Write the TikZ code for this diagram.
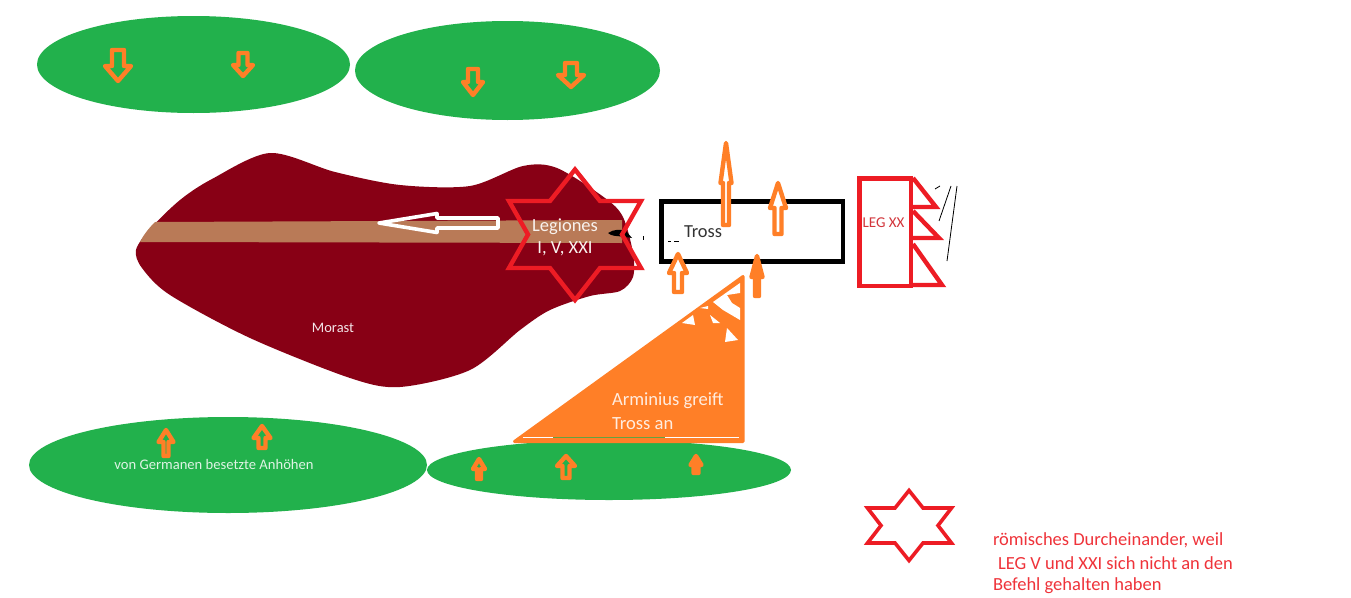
\documentclass[tikz,border=0pt]{standalone}
\usepackage{fontspec}
\setmainfont{Carlito}
\definecolor{gruen}{HTML}{22B14C}
\definecolor{orng}{HTML}{FF7F27}
\definecolor{maroon}{HTML}{880015}
\definecolor{braun}{HTML}{B97A57}
\definecolor{rot}{HTML}{ED1C24}
\newcommand{\fsz}[2]{\fontsize{#1}{#2}\selectfont}
\tikzset{
  hill/.style={fill=gruen,draw=none},
  fatarrow/.style={draw=orng,line width=4.4pt,line join=round,line cap=round},
  redline/.style={draw=rot,line width=4.4pt,line join=miter},
  lbl/.style={inner sep=0pt,outer sep=0pt,align=left},
  scratch/.style={draw=black,line width=0.8pt},
}
\newcommand{\vArrow}[7]{%
  \draw[fatarrow,fill=#7] (#1,#2) -- ({#1+#5},#3) -- ({#1+#6},#3) -- ({#1+#6},#4)
    -- ({#1-#6},#4) -- ({#1-#6},#3) -- ({#1-#5},#3) -- cycle;}
\begin{document}
\begin{tikzpicture}[x=1pt,y=-1pt]
\useasboundingbox (0,0) rectangle (1351,597);
\fill[white] (0,0) rectangle (1351,597);
% hills
\fill[hill] (193.5,64.5) ellipse [x radius=156.5,y radius=48.5];
\fill[hill] (507.5,70.5) ellipse [x radius=152.5,y radius=49.5];
\fill[hill] (228,465) ellipse [x radius=199,y radius=48];
\fill[hill] (609,470) ellipse [x radius=182,y radius=30];
% Morast
\fill[maroon] plot[smooth cycle,tension=0.5] coordinates {
 (136,250) (150,229) (180,200) (212,179) (270,153) (335,172) (400,185) (470,186) (523,166)
 (557,168) (605,198) (623,217) (633,253) (633,277) (620,291) (590,296) (550,310)
 (520,330) (470,370) (400,387) (350,378) (250,338) (170,295) (142,268)};
% Road
\fill[braun] (140,242) .. controls (144,234) and (150,227) .. (155,222) -- (622,220) -- (622,243) -- cycle;
\draw[draw=white,line width=3.6pt,line join=round] (379,223) -- (437,213.5) -- (437,218) -- (498,218)
  -- (498,228) -- (437,228) -- (437,232.5) -- cycle;
% black scratches at the star
\fill[black] (608,233) .. controls (614,229) and (622,229) .. (626,231) -- (632,238) -- (622,236.5) .. controls (616,236) and (611,236) .. (608,233) -- cycle;
\fill[black] (642.5,236) rectangle (644,240);
\fill[black] (668,240.5) rectangle (670.5,241.5);
\fill[black] (674,240.5) rectangle (679,241.5);
% star
\draw[redline] (575,169.5) -- (600,201) -- (641,201) -- (622,234.5) -- (641,268) -- (600,268)
  -- (575,300) -- (550,268) -- (509,268) -- (528,234.5) -- (509,201) -- (550,201) -- cycle;
\node[lbl,text=white!90!braun,align=center,anchor=center,font=\fsz{18.5}{22}] (leg) at (565,237) {Legiones\\I, V, XXI};
% Tross box
\draw[black,line width=4.6pt] (661.5,201.5) rectangle (843,261.5);
\node[lbl,anchor=west,text=black!80,font=\fsz{18.4}{22}] (tross) at (684,231.5) {Tross};
% Arminius triangle
\draw[fill=orng,draw=orng,line width=3pt,line join=round] (514.5,441.5) -- (743,276.5) -- (743,441.5) -- cycle;
\fill[white] (713,302) -- (740,283) -- (740,293) -- (727,295) -- (732,303) -- (740,308) -- (740,320) -- (723,310) -- cycle;
\fill[white] (682,323) -- (693,315) -- (695,325) -- cycle;
\fill[white] (710,315) -- (720,323) -- (713,323) -- cycle;
\fill[white] (727,328) -- (738,340) -- (725,342) -- cycle;
\fill[white] (700,308) -- (708,306) -- (708,309) -- cycle;
\draw[white,line width=0.9pt] (523,437.7) -- (739,437.7);
\draw[gruen!70!orng,line width=0.9pt] (553,437.9) -- (665,437.9);
\node[lbl,anchor=west,text=white!85!orng,font=\fsz{18.6}{23.5}] (arm) at (612,411) {Arminius greift\\Tross an};
% LEG XX
\draw[redline] (859.5,178.5) rectangle (911,286);
\draw[redline] (913,178) -- (936,207) -- (913,207);
\draw[redline] (913,211) -- (939,238) -- (913,238);
\draw[redline] (913,244) -- (942,285) -- (913,285);
\node[lbl,anchor=center,text=rot!75!gray,font=\fsz{15}{18}] (legxx) at (883.5,222.5) {LEG XX};
\coordinate (s1a) at (951,186); \coordinate (s1b) at (939,221);
\coordinate (s2a) at (957,186); \coordinate (s2b) at (947,261);
\coordinate (s3a) at (940,186); \coordinate (s3b) at (935,189);
\draw[scratch] (s1a) -- (s1b);
\draw[scratch] (s2a) -- (s2b);
\draw[scratch] (s3a) -- (s3b);
% arrows
\vArrow{118}{81}{66}{50}{13}{6}{gruen}
\vArrow{243}{76}{65}{53}{10}{4.5}{gruen}
\vArrow{473}{95}{82}{69}{10}{5}{gruen}
\vArrow{571}{87}{75}{63}{13}{6}{gruen}
\vArrow{166}{430}{442}{456}{7.5}{2.5}{gruen}
\vArrow{262}{426}{438}{448}{8.5}{3.5}{gruen}
\vArrow{479}{459}{469}{479}{6}{2}{gruen}
\vArrow{566}{456}{466}{478}{9}{3.5}{gruen}
\vArrow{696}{456}{465}{473}{5.5}{2.5}{orng}
\vArrow{726}{143}{183}{225}{5.5}{3}{white}
\vArrow{778}{183}{208}{234}{8}{3.5}{white}
\vArrow{678}{254}{273}{292}{9}{4}{white}
\vArrow{757}{256}{277}{296}{5.5}{2}{orng}
% labels
\node[lbl,anchor=center,text=white!90!maroon,font=\fsz{14.5}{18}] (mor) at (333,328) {Morast};
\node[lbl,anchor=center,text=white!85!gruen,font=\fsz{14.6}{18}] (ger) at (214,464) {von Germanen besetzte Anhöhen};
% legend star
\draw[redline,line width=3.6pt] (909,490.5) -- (923,508) -- (951.5,508) -- (938,525.5) -- (951.5,543) -- (923,543)
  -- (909,560.5) -- (895,543) -- (867.5,543) -- (881,525.5) -- (867.5,508) -- (895,508) -- cycle;
\node[lbl,anchor=west,text=rot!90!white,font=\fsz{18.5}{22}] (l1) at (993,540) {römisches Durcheinander, weil};
\node[lbl,anchor=west,text=rot!90!white,font=\fsz{18.5}{22}] (l2) at (998,563) {LEG V und XXI sich nicht an den};
\node[lbl,anchor=west,text=rot!90!white,font=\fsz{18.5}{22}] (l3) at (993,586) {Befehl gehalten haben};
\end{tikzpicture}
\end{document}
